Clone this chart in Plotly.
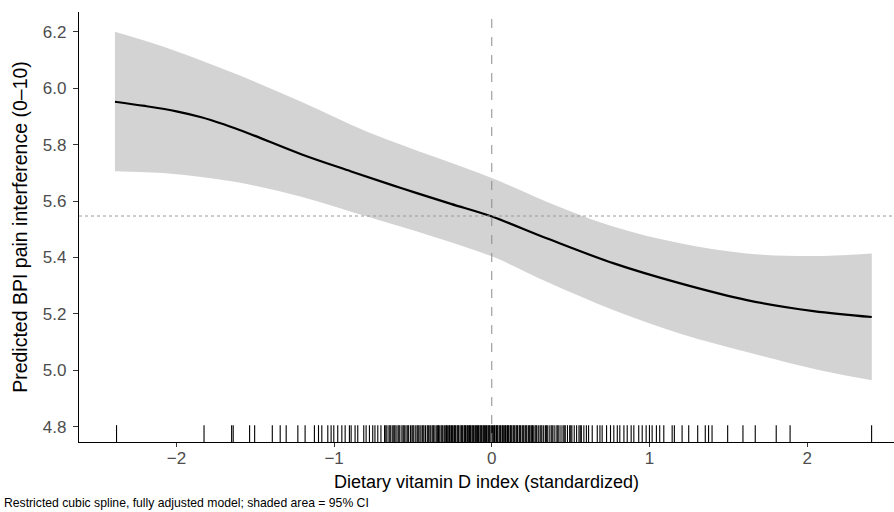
import plotly.graph_objects as go

# ---- Data ----
curve_x = [-2.39, -2.2, -2.0, -1.842, -1.7, -1.525, -1.209, -0.892, -0.576, -0.259, 0.0, 0.352, 0.774, 1.196, 1.618, 2.04, 2.41]
curve_y = [5.952, 5.937, 5.918, 5.897, 5.872, 5.836, 5.766, 5.705, 5.646, 5.590, 5.545, 5.467, 5.379, 5.308, 5.249, 5.210, 5.189]

ci_x = [-2.39, -2.05, -1.63, -1.209, -0.787, -0.365, 0.0, 0.352, 0.774, 1.196, 1.618, 2.04, 2.41]
ci_upper = [6.200, 6.141, 6.052, 5.952, 5.845, 5.757, 5.682, 5.597, 5.509, 5.450, 5.414, 5.405, 5.414]
ci_lower = [5.706, 5.698, 5.668, 5.615, 5.544, 5.473, 5.404, 5.313, 5.213, 5.130, 5.065, 5.006, 4.965]

rug_x = [
    -2.38, -1.825, -1.65, -1.64, -1.536, -1.504, -1.392, -1.342, -1.304, -1.23,
    -1.184, -1.125, -1.099, -1.078, -1.04, -1.019, -1.002, -0.977, -0.951, -0.93,
    -0.903, -0.892, -0.867, -0.85, -0.812, -0.797, -0.776, -0.755, -0.741, -0.723, -0.703,
    -0.68, -0.672, -0.665, -0.652, -0.646, -0.64, -0.628, -0.621, -0.615, -0.607, -0.595, -0.589, -0.583, -0.57,
    -0.562, -0.556, -0.55, -0.538, -0.532, -0.527, -0.515, -0.506, -0.5, -0.494, -0.482, -0.473, -0.467, -0.461,
    -0.45, -0.441, -0.436, -0.43, -0.42, -0.409, -0.403, -0.398, -0.39, -0.379, -0.373, -0.368, -0.36,
    -0.349, -0.343, -0.338, -0.33, -0.321, -0.315, -0.31, -0.301, -0.292, -0.287, -0.282, -0.273, -0.268, -0.264,
    -0.255, -0.25, -0.245, -0.236, -0.232, -0.228, -0.219, -0.214, -0.21, -0.201, -0.193, -0.188, -0.184, -0.175,
    -0.171, -0.167, -0.158, -0.153, -0.149, -0.141, -0.136, -0.132, -0.124, -0.119, -0.115, -0.107, -0.102, -0.098, -0.09,
    -0.085, -0.081, -0.073, -0.068, -0.064, -0.056, -0.051, -0.047, -0.039, -0.034, -0.03, -0.022, -0.017, -0.013, -0.005,
    0.0, 0.004, 0.012, 0.017, 0.021, 0.03, 0.034, 0.038, 0.047, 0.052, 0.056, 0.065, 0.069, 0.073, 0.082,
    0.087, 0.091, 0.1, 0.105, 0.109, 0.118, 0.122, 0.127, 0.136, 0.141, 0.146, 0.155, 0.16, 0.164, 0.174,
    0.178, 0.183, 0.193, 0.198, 0.203, 0.212, 0.217, 0.222, 0.232, 0.238, 0.243, 0.253, 0.258, 0.263, 0.274,
    0.28, 0.285, 0.295, 0.306, 0.312, 0.318, 0.329, 0.34, 0.346, 0.352, 0.364, 0.376, 0.382, 0.388,
    0.4, 0.413, 0.419, 0.426, 0.439, 0.452, 0.459, 0.466, 0.48, 0.494, 0.501, 0.508, 0.523,
    0.538, 0.553, 0.561, 0.568, 0.584, 0.6, 0.614,
    0.637, 0.669, 0.686, 0.7, 0.728, 0.753, 0.774, 0.796, 0.812, 0.838,
    0.859, 0.884, 0.901, 0.932, 0.954, 0.979, 1.0, 1.017, 1.044, 1.065,
    1.091, 1.144, 1.158, 1.207, 1.249, 1.306, 1.354, 1.375, 1.397, 1.496,
    1.593, 1.671, 1.804, 1.892, 2.409,
]

ref_x = 0.0
ref_y = 5.547

x_range = [-2.618, 2.551]
y_range = [4.746, 6.27]
rug_base = 4.771

x_ticks = [-2, -1, 0, 1, 2]
x_ticktext = ["\u22122", "\u22121", "0", "1", "2"]
y_ticks = [4.8, 5.0, 5.2, 5.4, 5.6, 5.8, 6.0, 6.2]
y_ticktext = ["4.8", "5.0", "5.2", "5.4", "5.6", "5.8", "6.0", "6.2"]

FONT = "Liberation Sans, Arial, sans-serif"

fig = go.Figure()

# CI ribbon
fig.add_trace(go.Scatter(x=ci_x, y=ci_upper, mode="lines", line=dict(width=0, shape="spline"),
                         hoverinfo="skip", showlegend=False))
fig.add_trace(go.Scatter(x=ci_x, y=ci_lower, mode="lines", line=dict(width=0, shape="spline"),
                         fill="tonexty", fillcolor="#d3d3d3", hoverinfo="skip", showlegend=False))

# reference lines
fig.add_shape(type="line", xref="x", yref="paper", x0=ref_x, x1=ref_x, y0=0, y1=1,
              line=dict(color="#8a8a8a", width=1, dash="dash"))
fig.add_shape(type="line", xref="paper", yref="y", x0=0, x1=1, y0=ref_y, y1=ref_y,
              line=dict(color="#9a9a9a", width=1, dash="dot"))

# fitted curve
fig.add_trace(go.Scatter(x=curve_x, y=curve_y, mode="lines",
                         line=dict(color="black", width=2.2, shape="spline", smoothing=1),
                         showlegend=False))

# rug
fig.add_trace(go.Scatter(x=rug_x, y=[rug_base] * len(rug_x), mode="markers",
                         marker=dict(symbol="line-ns", size=14, line=dict(color="black", width=1.1)),
                         showlegend=False, hoverinfo="x"))

fig.update_layout(
    width=894, height=512,
    margin=dict(l=79, r=0, t=12, b=70),
    paper_bgcolor="white", plot_bgcolor="white",
    font=dict(family=FONT, color="black"),
    xaxis=dict(range=x_range, tickvals=x_ticks, ticktext=x_ticktext, showgrid=False, zeroline=False,
               showline=True, linecolor="black", linewidth=1.2, ticks="outside", ticklen=4,
               ticklabelstandoff=-4,
               tickcolor="#333333", tickfont=dict(size=17, color="#4d4d4d"), automargin=False,
               title=dict(text="Dietary vitamin D index (standardized)", font=dict(size=18, color="black"), standoff=8)),
    yaxis=dict(range=y_range, tickvals=y_ticks, ticktext=y_ticktext, showgrid=False, zeroline=False,
               showline=True, linecolor="black", linewidth=1.2, ticks="outside", ticklen=5,
               ticklabelstandoff=3,
               tickcolor="#333333", tickfont=dict(size=17, color="#4d4d4d"), automargin=False,
               title=dict(text="Predicted BPI pain interference (0\u201310)", font=dict(size=19.5, color="black"), standoff=10)),
)

fig.add_annotation(text="Restricted cubic spline, fully adjusted model; shaded area = 95% CI",
                   xref="paper", yref="paper", x=-77 / 815, y=-61 / 430, xanchor="left", yanchor="middle",
                   showarrow=False, font=dict(size=12.2, color="black", family=FONT))

fig.write_html("out.html", config={"displayModeBar": False},
               post_script="document.body.style.margin='0';document.body.style.overflow='hidden';")
